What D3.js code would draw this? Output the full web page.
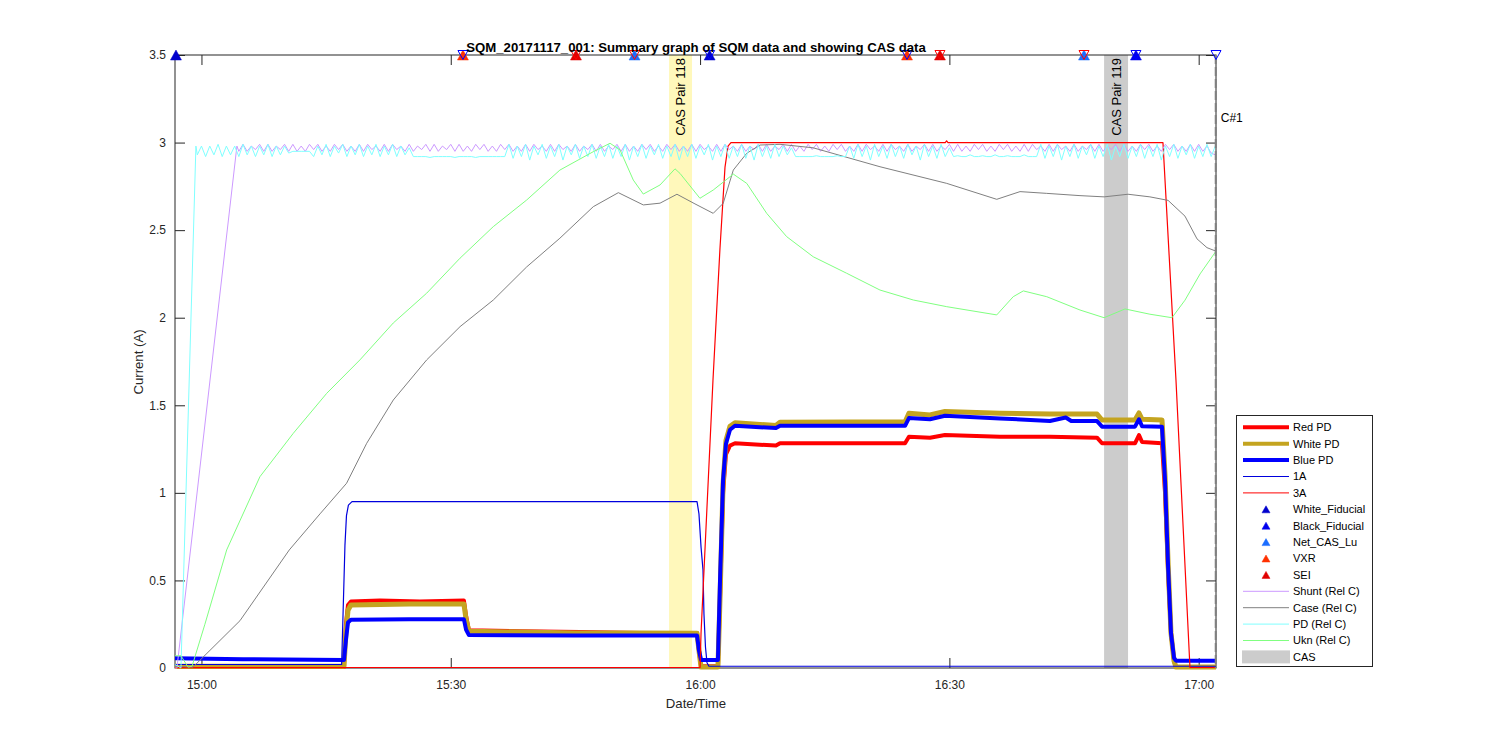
<!DOCTYPE html>
<html><head><meta charset="utf-8">
<script src="https://cdn.jsdelivr.net/npm/d3@7"></script>
<style>
body{margin:0;background:#fff}
text{font-family:"Liberation Sans",Arial,Helvetica,sans-serif}
</style>
</head><body>
<svg id="chart" width="1500" height="750"></svg>
<script>
// ---------------- DATA ----------------
const titleText = "SQM_20171117_001: Summary graph of SQM data and showing CAS data";
const yTicks = [0, 0.5, 1, 1.5, 2, 2.5, 3, 3.5];
const yTickLabels = ["0", "0.5", "1", "1.5", "2", "2.5", "3", "3.5"];
const xTickLabels = ["15:00", "15:30", "16:00", "16:30", "17:00"];
const timeDomain = ["14:56:49", "17:02:05"];

const redPD = [["14:56:49",0.005],["15:17:09",0.005],["15:17:23",0.25],["15:17:38",0.36],["15:17:59",0.38],["15:21:29",0.385],["15:26:17",0.38],["15:31:35",0.385],["15:31:50",0.3],["15:32:11",0.215],["15:38:20",0.21],["15:45:33",0.205],["15:52:46",0.2],["15:59:38",0.2],["15:59:52",0.1],["16:00:07",0.01],["16:02:09",0.01],["16:02:24",0.4],["16:02:46",1.0],["16:03:07",1.22],["16:03:36",1.27],["16:04:12",1.283],["16:09:08",1.27],["16:09:37",1.283],["16:18:02",1.283],["16:24:40",1.283],["16:25:08",1.32],["16:27:40",1.315],["16:29:28",1.33],["16:36:05",1.32],["16:42:06",1.32],["16:47:46",1.315],["16:48:22",1.283],["16:52:20",1.283],["16:52:49",1.33],["16:53:11",1.29],["16:55:35",1.283],["16:55:57",1.0],["16:56:19",0.55],["16:56:40",0.2],["16:57:02",0.04],["16:57:16",0.005],["17:02:05",0.005]];

const whitePD = [["14:56:49",0.01],["15:17:09",0.01],["15:17:23",0.2],["15:17:38",0.33],["15:17:59",0.36],["15:25:00",0.365],["15:31:35",0.365],["15:31:50",0.28],["15:32:11",0.21],["15:45:00",0.2],["15:52:46",0.2],["15:59:38",0.198],["15:59:52",0.1],["16:00:07",0.005],["16:02:09",0.005],["16:02:24",0.4],["16:02:46",1.05],["16:03:07",1.3],["16:03:36",1.38],["16:04:12",1.4],["16:09:08",1.385],["16:09:37",1.403],["16:18:02",1.405],["16:24:40",1.405],["16:25:08",1.455],["16:27:40",1.445],["16:29:28",1.465],["16:36:05",1.455],["16:42:06",1.45],["16:47:46",1.45],["16:48:22",1.416],["16:52:20",1.416],["16:52:49",1.456],["16:53:11",1.42],["16:55:35",1.416],["16:55:57",1.1],["16:56:19",0.6],["16:56:40",0.2],["16:57:02",0.04],["16:57:16",0.005],["17:02:05",0.005]];

const bluePD = [["14:56:49",0.055],["15:05:00",0.05],["15:17:09",0.045],["15:17:23",0.16],["15:17:38",0.26],["15:17:59",0.275],["15:25:00",0.278],["15:31:35",0.278],["15:31:50",0.22],["15:32:11",0.188],["15:45:00",0.185],["15:59:38",0.185],["15:59:52",0.1],["16:00:07",0.046],["16:02:09",0.046],["16:02:24",0.5],["16:02:46",1.07],["16:03:07",1.28],["16:03:36",1.36],["16:04:12",1.383],["16:09:08",1.37],["16:09:37",1.383],["16:24:40",1.383],["16:25:08",1.427],["16:27:40",1.42],["16:29:28",1.44],["16:36:05",1.425],["16:42:06",1.41],["16:44:00",1.43],["16:44:40",1.41],["16:47:46",1.41],["16:48:22",1.378],["16:52:20",1.378],["16:52:49",1.42],["16:53:11",1.38],["16:55:35",1.378],["16:55:57",1.07],["16:56:19",0.58],["16:56:40",0.2],["16:57:02",0.057],["16:57:16",0.042],["17:02:05",0.042]];

const oneA = [["14:56:49",0.02],["15:16:52",0.02],["15:17:02",0.3],["15:17:16",0.7],["15:17:27",0.87],["15:17:41",0.93],["15:18:07",0.95],["15:59:38",0.95],["15:59:52",0.88],["16:00:07",0.69],["16:00:21",0.56],["16:00:28",0.31],["16:00:39",0.12],["16:00:50",0.03],["16:01:04",0.01],["17:02:05",0.01]];

const threeA = [["14:56:49",0.003],["16:00:00",0.003],["16:00:07",0.2],["16:01:33",1.64],["16:02:24",2.4],["16:03:00",2.86],["16:03:22",2.98],["16:03:43",3.0],["16:29:30",3.0],["16:29:40",3.01],["16:29:50",3.0],["16:55:42",3.0],["16:57:16",1.644],["16:58:57",0.003],["17:02:05",0.003]];

const shuntRamp = [["14:56:49",0.0],["14:57:03",0.0],["15:04:16",2.98]];
const shuntWaveStart = "15:04:30";
const shuntWave = [
2.95,2.99,2.95,2.98,2.96,2.99,2.95,2.99,2.95,2.98,
2.96,2.99,2.95,2.99,2.95,2.98,2.95,2.99,2.96,2.99,
2.95,2.98,2.95,2.99,2.96,2.99,2.95,2.98,2.95,2.99,
2.95,2.99,2.96,2.98,2.95,2.99,2.95,2.99,2.96,2.98,
2.95,2.99,2.95,2.98,2.96,2.99,2.95,2.99,2.95,2.98,
2.96,2.99,2.95,2.99,2.95,2.98,2.95,2.99,2.96,2.99,
2.95,2.98,2.95,2.99,2.96,2.99,2.95,2.98,2.95,2.99,
2.95,2.99,2.96,2.98,2.95,2.99,2.95,2.99,2.96,2.98,
2.95,2.99,2.95,2.98,2.96,2.99,2.95,2.99,2.95,2.98,
2.96,2.99,2.95,2.99,2.95,2.98,2.95,2.99,2.96,2.99,
2.95,2.98,2.95,2.99,2.96,2.99,2.95,2.98,2.95,2.99,
2.95,2.99,2.96,2.98,2.95,2.99,2.95,2.99,2.96,2.98,
2.95,2.99,2.95,2.98,2.96,2.99,2.95,2.99,2.95,2.98,
2.96,2.99,2.95,2.99,2.95,2.98,2.95,2.99,2.96,2.99,
2.95,2.98,2.95,2.99,2.96,2.99,2.95,2.98,2.95,2.99,
2.95,2.99,2.96,2.98,2.95,2.99,2.95,2.99,2.96,2.98,
2.95,2.99,2.95,2.98,2.96,2.99,2.95,2.99,2.95,2.98,
2.96,2.99,2.95,2.99,2.95,2.98,2.95,2.99,2.96,2.99,
2.95,2.98,2.95,2.99,2.96,2.99,2.95,2.98,2.95,2.99,
2.95,2.99,2.96,2.98,2.95,2.99,2.95,2.99,2.96,2.98,
2.95,2.99,2.95,2.98,2.96,2.99,2.95,2.99,2.95,2.98,
2.96,2.99,2.95,2.99,2.95,2.98,2.95,2.99,2.96,2.99,
2.95,2.98,2.95,2.99,2.96,2.99,2.95,2.98,2.95,2.99,
2.95,2.99,2.95,2.98,2.94,2.93];

const pdRamp = [["14:56:49",0.02],["14:57:32",0.0],["14:59:20",2.98]];
const pdWaveStart = "14:59:30";
const pdWave = [
2.93,2.98,2.92,2.98,2.93,2.99,2.92,2.98,2.93,2.98,
2.92,2.99,2.93,2.98,2.92,2.98,2.93,2.99,2.92,2.98,
2.93,2.98,2.94,2.95,2.95,2.95,2.95,2.95,2.92,2.98,
2.93,2.99,2.92,2.98,2.94,2.99,2.92,2.98,2.93,2.99,
2.92,2.98,2.93,2.99,2.92,2.98,2.93,2.99,2.92,2.98,
2.93,2.97,2.92,2.92,2.92,2.92,2.915,2.92,2.92,2.92,
2.92,2.92,2.915,2.92,2.92,2.92,2.92,2.915,2.92,2.92,
2.92,2.92,2.92,2.92,2.92,2.99,2.91,2.98,2.92,2.99,
2.90,2.98,2.93,2.99,2.91,2.98,2.92,2.99,2.90,2.98,
2.93,2.99,2.91,2.98,2.92,2.99,2.91,2.98,2.92,2.99,
2.91,2.98,2.92,2.99,2.90,2.98,2.92,2.99,2.91,2.98,
2.93,2.99,2.91,2.98,2.92,2.99,2.90,2.98,2.92,2.99,
2.91,2.98,2.93,2.99,2.90,2.98,2.92,2.99,2.91,2.98,
2.92,2.99,2.91,2.98,2.90,2.99,2.92,2.98,2.91,2.99,
2.92,2.98,2.93,2.97,2.92,2.92,2.92,2.92,2.92,2.925,
2.92,2.92,2.92,2.92,2.925,2.92,2.92,2.98,2.91,2.99,
2.92,2.98,2.90,2.99,2.92,2.98,2.91,2.99,2.92,2.98,
2.91,2.99,2.93,2.98,2.90,2.99,2.92,2.98,2.91,2.99,
2.92,2.97,2.92,2.925,2.92,2.92,2.93,2.92,2.92,2.925,
2.92,2.92,2.93,2.92,2.92,2.925,2.92,2.92,2.92,2.93,
2.92,2.92,2.92,2.99,2.91,2.98,2.92,2.99,2.90,2.98,
2.92,2.99,2.91,2.98,2.93,2.99,2.91,2.98,2.92,2.99,
2.90,2.98,2.92,2.99,2.91,2.98,2.92,2.99,2.91,2.98,
2.92,2.99,2.90,2.98,2.92,2.99,2.91,2.98,2.93,2.99,
2.91,2.98,2.92,2.99,2.92,2.98];

const caseRelC = [["14:56:49",0.01],["14:58:59",0.005],["15:04:38",0.27],["15:10:34",0.674],["15:14:16",0.88],["15:17:28",1.055],["15:19:53",1.283],["15:23:05",1.53],["15:27:06",1.759],["15:31:07",1.949],["15:35:07",2.101],["15:39:08",2.29],["15:43:08",2.454],["15:47:09",2.634],["15:50:10",2.714],["15:53:10",2.644],["15:55:11",2.654],["15:57:13",2.705],["15:59:23",2.65],["16:01:35",2.596],["16:02:47",2.653],["16:04:00",2.843],["16:05:37",2.939],["16:07:13",2.986],["16:09:37",2.99],["16:13:37",2.97],["16:21:39",2.862],["16:29:41",2.767],["16:35:42",2.676],["16:38:30",2.72],["16:41:43",2.71],["16:45:43",2.697],["16:48:37",2.69],["16:51:30",2.705],["16:54:08",2.69],["16:56:19",2.67],["16:58:21",2.58],["16:59:48",2.45],["17:01:00",2.4],["17:02:05",2.38]];

const uknRelC = [["14:56:49",0.07],["14:57:32",0.07],["14:58:23",0.005],["14:58:52",0.01],["15:00:25",0.25],["15:03:02",0.674],["15:07:02",1.092],["15:11:03",1.34],["15:15:04",1.568],["15:19:04",1.759],["15:23:05",1.97],["15:27:06",2.14],["15:31:07",2.34],["15:35:07",2.52],["15:39:08",2.672],["15:43:08",2.843],["15:47:09",2.948],["15:49:10",2.996],["15:50:22",2.958],["15:51:58",2.786],["15:53:10",2.706],["15:55:11",2.758],["15:56:59",2.85],["15:57:35",2.824],["15:59:59",2.682],["16:01:35",2.729],["16:04:00",2.82],["16:05:37",2.767],["16:08:01",2.596],["16:10:25",2.463],["16:13:37",2.348],["16:17:38",2.254],["16:21:39",2.158],["16:25:40",2.101],["16:29:41",2.063],["16:35:42",2.016],["16:37:41",2.12],["16:38:54",2.153],["16:41:43",2.12],["16:45:43",2.044],["16:48:37",2.0],["16:51:08",2.05],["16:54:08",2.02],["16:56:47",2.0],["16:58:21",2.1],["17:00:10",2.25],["17:02:05",2.38]];

const markerLevel = 3.5;
const whiteFiducialTimes = ["14:56:56", "16:01:09"];
const blackFiducialTimes = ["16:52:27"];
const netCasLuTimes = ["15:52:07", "16:46:12"];
const vxrTimes = ["15:31:28", "16:24:54"];
const seiTimes = ["15:45:04", "16:28:52"];
const endBlueTimes = ["15:31:28", "16:01:09", "16:24:54", "16:52:27", "17:02:05"];
const endRedTimes = ["15:45:04", "15:52:07", "16:28:52", "16:46:12"];

const casStart = ["15:56:16", "16:48:37"];
const casEnd = ["15:59:02", "16:51:30"];
const casLabels = ["CAS Pair 118", "CAS Pair 119"];

const cMarkerTime = "17:02:03";
const cMarkerLabel = "C#1";

const legendNames = ["Red PD","White PD","Blue PD","1A","3A","White_Fiducial","Black_Fiducial","Net_CAS_Lu","VXR","SEI","Shunt (Rel C)","Case (Rel C)","PD (Rel C)","Ukn (Rel C)","CAS"];

// ---------------- RENDER ----------------
const parseS = d3.timeParse("%H:%M:%S");
const T = s => parseS(s.length === 5 ? s + ":00" : s);
const pairs = arr => arr.map(d => [T(d[0]), d[1]]);
const wave = (start, stepSec, vals) => { const t0 = T(start).getTime(); return vals.map((v, i) => [new Date(t0 + i * stepSec * 1000), v]); };

const L = 175, R = 1216, TOP = 55, BOT = 668;
const x = d3.scaleTime().domain(timeDomain.map(T)).range([L, R]);
const y = d3.scaleLinear().domain([0, 3.5]).range([BOT, TOP]);
const svg = d3.select("#chart");
const axisCol = "#262626";

// CAS bands
const bandCols = ["#fff8bb", "#cccccc"];
casStart.forEach((s, i) => {
  const x0 = x(T(s)), x1 = x(T(casEnd[i]));
  svg.append("rect").attr("x", x0).attr("y", TOP).attr("width", x1 - x0).attr("height", BOT - TOP).attr("fill", bandCols[i]);
  svg.append("text").attr("transform", `translate(${(x0 + x1) / 2},${TOP + 3}) rotate(-90)`)
    .attr("text-anchor", "end").attr("dy", "0.35em").attr("font-size", 13).attr("fill", "#000").text(casLabels[i]);
});

// axes
const xTicks = xTickLabels.map(T);
svg.append("g").attr("transform", `translate(0,${BOT})`)
  .call(d3.axisBottom(x).tickValues(xTicks).tickFormat(d3.timeFormat("%H:%M")).tickSizeInner(-10).tickSizeOuter(0).tickPadding(12));
svg.append("g").attr("transform", `translate(0,${TOP})`)
  .call(d3.axisTop(x).tickValues(xTicks).tickFormat("").tickSizeInner(-10).tickSizeOuter(0));
svg.append("g").attr("transform", `translate(${L},0)`)
  .call(d3.axisLeft(y).tickValues(yTicks).tickFormat((d, i) => yTickLabels[i]).tickSizeInner(-10).tickSizeOuter(0).tickPadding(9));
svg.append("g").attr("transform", `translate(${R},0)`)
  .call(d3.axisRight(y).tickValues(yTicks).tickFormat("").tickSizeInner(-10).tickSizeOuter(0));
svg.selectAll(".domain").remove();
svg.selectAll(".tick line").attr("stroke", axisCol);
svg.selectAll(".tick text").attr("fill", axisCol).attr("font-size", 12).attr("font-family", '"Liberation Sans",Arial,sans-serif');
svg.append("rect").attr("x", L).attr("y", TOP).attr("width", R - L).attr("height", BOT - TOP)
  .attr("fill", "none").attr("stroke", axisCol).attr("stroke-width", 1);

// lines
const line = d3.line().x(d => x(d[0])).y(d => y(d[1]));
const series = [
  [pairs(redPD), "#ff0000", 4],
  [pairs(whitePD), "#c4a420", 5],
  [pairs(bluePD), "#0000ff", 4],
  [pairs(oneA), "#0000dd", 1.2],
  [pairs(threeA), "#ff0000", 1.2],
  [pairs(shuntRamp).concat(wave(shuntWaveStart, 30, shuntWave)), "#cc99ff", 1],
  [pairs(caseRelC), "#808080", 1],
  [pairs(pdRamp).concat(wave(pdWaveStart, 30, pdWave)), "#80ffff", 1],
  [pairs(uknRelC), "#80ff80", 1]
];
series.forEach(([data, col, w]) => {
  svg.append("path").datum(data).attr("d", line).attr("fill", "none")
    .attr("stroke", col).attr("stroke-width", w).attr("stroke-linejoin", "round");
});

// C#1 marker line
const cx1 = x(T(cMarkerTime));
svg.append("line").attr("x1", cx1).attr("x2", cx1).attr("y1", TOP).attr("y2", BOT)
  .attr("stroke", "#808080").attr("stroke-width", 2).attr("stroke-dasharray", "9,3");
svg.append("text").attr("x", cx1 + 5).attr("y", 118).attr("dy", "0.35em").attr("font-size", 12).attr("fill", "#000").text(cMarkerLabel);

// markers
const triUp = (cx, cy, w, h) => `M${cx},${cy - h / 2}L${cx - w / 2},${cy + h / 2}L${cx + w / 2},${cy + h / 2}Z`;
const triDown = (cx, cy, w, h) => `M${cx},${cy + h / 2}L${cx - w / 2},${cy - h / 2}L${cx + w / 2},${cy - h / 2}Z`;
const ym = y(markerLevel);
const upSets = [[whiteFiducialTimes, "#0000cd"], [blackFiducialTimes, "#0000ee"], [netCasLuTimes, "#1a6dff"], [vxrTimes, "#ff3000"], [seiTimes, "#e00000"]];
upSets.forEach(([times, col]) => {
  svg.append("g").selectAll("path").data(times).join("path")
    .attr("d", t => triUp(x(T(t)), ym, 11, 10)).attr("fill", col).attr("stroke", col).attr("stroke-width", 0.5);
});
[[endBlueTimes, "#0000ff"], [endRedTimes, "#ff0000"]].forEach(([times, col]) => {
  svg.append("g").selectAll("path").data(times).join("path")
    .attr("d", t => triDown(x(T(t)), ym, 10, 9)).attr("fill", "none").attr("stroke", col).attr("stroke-width", 1);
});

// title and labels
svg.append("text").attr("x", 696).attr("y", 51.5).attr("text-anchor", "middle").attr("font-size", 13.2)
  .attr("font-weight", "bold").attr("fill", "#000").text(titleText);
svg.append("text").attr("x", 696).attr("y", 708).attr("text-anchor", "middle").attr("font-size", 13.2).attr("fill", axisCol).text("Date/Time");
svg.append("text").attr("transform", "translate(138,362) rotate(-90)").attr("text-anchor", "middle").attr("dy", "0.35em")
  .attr("font-size", 13.2).attr("fill", axisCol).text("Current (A)");

// legend
const lg = svg.append("g");
lg.append("rect").attr("x", 1236.5).attr("y", 415.5).attr("width", 136).attr("height", 251).attr("fill", "#fff").attr("stroke", axisCol);
const legStyles = [
  ["line", "#ff0000", 4], ["line", "#c4a420", 4], ["line", "#0000ff", 4], ["line", "#0000dd", 1], ["line", "#ff0000", 1],
  ["tri", "#0000cd"], ["tri", "#0000ee"], ["tri", "#1a6dff"], ["tri", "#ff3000"], ["tri", "#e00000"],
  ["line", "#cc99ff", 1], ["line", "#808080", 1], ["line", "#80ffff", 1], ["line", "#80ff80", 1], ["rect", "#cccccc"]
];
legendNames.forEach((name, i) => {
  const cy = 427.3 + i * 16.4;
  const st = legStyles[i];
  if (st[0] === "line") {
    lg.append("line").attr("x1", 1243).attr("x2", 1289).attr("y1", cy).attr("y2", cy).attr("stroke", st[1]).attr("stroke-width", st[2]);
  } else if (st[0] === "tri") {
    lg.append("path").attr("d", triUp(1266, cy, 8, 7)).attr("fill", st[1]).attr("stroke", st[1]).attr("stroke-width", 0.5);
  } else {
    lg.append("rect").attr("x", 1242).attr("y", cy - 6.5).attr("width", 48).attr("height", 13).attr("fill", st[1]);
  }
  lg.append("text").attr("x", 1293).attr("y", cy).attr("dy", "0.35em").attr("font-size", 11).attr("fill", "#000").text(name);
});
</script>
</body></html>
